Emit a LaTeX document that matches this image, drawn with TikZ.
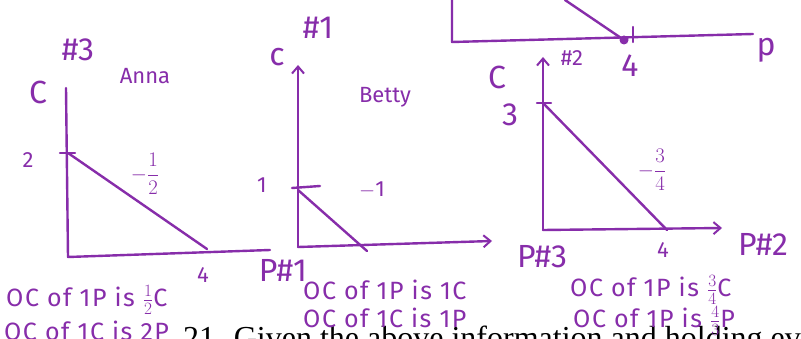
\documentclass[tikz,border=0pt]{standalone}
\usepackage{fontspec}
\setmainfont{Liberation Serif}
\newfontfamily\hand{Fira Sans}
\newfontfamily\handwide[LetterSpace=6]{Fira Sans}
\usetikzlibrary{arrows.meta}
\definecolor{ink}{RGB}{135,45,170}
\begin{document}
\begin{tikzpicture}[x=1pt,y=-1pt, line cap=round, line join=round,
  pen/.style={draw=ink, line width=2.4pt},
  tipped/.style={-{Straight Barb[length=7pt,width=12pt,line width=2pt]}},
  lbl/.style={text=ink, font=\hand\fontsize{32}{32}\selectfont, inner sep=0pt},
  sm/.style={text=ink, font=\hand\fontsize{22}{22}\selectfont, inner sep=0pt},
  note/.style={text=ink, font=\handwide\fontsize{25}{25}\selectfont, inner sep=0pt, anchor=west},
  printed/.style={font=\fontsize{32}{32}\selectfont, inner sep=0pt, anchor=base west}]
\useasboundingbox (0,0) rectangle (801,339);
\fill[white] (0,0) rectangle (801,339);

% printed text, cut off at the bottom
\begin{scope}
\clip (0,0) rectangle (801,339);
\node[printed] (q21) at (183,348) {21. Given the above information and holding ev};
\end{scope}

% top partial graph
\coordinate (tt) at (452,0);
\coordinate (to) at (452,42);
\coordinate (tp) at (753,34);
\coordinate (dt) at (565,0);
\coordinate (dp) at (624,40);
\draw[pen] (tt) -- (to) -- (tp);
\draw[pen] (dt) -- (dp);
\draw[pen] (633,27) -- (633,42);
\fill[ink] (dp) circle (4.5pt);
\node[lbl] (t4) at (630,66) {4};
\node[lbl] (tpl) at (766,50) {p};

% Anna graph (#3)
\coordinate (at) at (66,88);
\coordinate (ao) at (68,257);
\coordinate (ar) at (270,250);
\coordinate (a2) at (68,153);
\coordinate (a4) at (207,249);
\draw[pen] (at) -- (ao) -- (ar);
\draw[pen] (60,153) -- (75,153);
\draw[pen] (a2) -- (a4);
\node[lbl] (aC) at (38,92) {C};
\node[lbl] (aH) at (78,50) {\#3};
\node[sm] (aN) at (145,76) {Anna};
\node[sm] (a2l) at (28,160) {2};
\node[sm] (asl) at (145,174) {$\displaystyle -\frac{1}{2}$};
\node[sm] (a4l) at (203,275) {4};
\node[note] (an1) at (6,300) {OC of 1P is $\frac12$C};
\node[note] (an2) at (4,331) {OC of 1C is 2P};

% Betty graph (#1)
\coordinate (bo) at (298,247);
\coordinate (bt) at (298,65);
\coordinate (br) at (492,241);
\coordinate (b1) at (298,190);
\coordinate (bx) at (367,251);
\draw[pen,tipped] (bo) -- (bt);
\draw[pen,tipped] (bo) -- (br);
\draw[pen] (292,188) -- (320,186);
\draw[pen] (b1) -- (bx);
\node[lbl] (bC) at (277,57) {c};
\node[lbl] (bH) at (318,28) {\#1};
\node[sm] (bN) at (385,97) {Betty};
\node[sm] (b1l) at (262,185) {1};
\node[sm] (bsl) at (372,190) {$-$1};
\node[lbl] (bP) at (283,270) {P\#1};
\node[lbl] (bP3) at (542,257) {P\#3};
\node[note] (bn1) at (303,290) {OC of 1P is 1C};
\node[note] (bn2) at (303,318) {OC of 1C is 1P};

% graph #2
\coordinate (co) at (543,230);
\coordinate (ct) at (543,57);
\coordinate (cr) at (722,228);
\coordinate (c3) at (543,103);
\coordinate (c4) at (667,230);
\draw[pen,tipped] (co) -- (ct);
\draw[pen,tipped] (co) -- (cr);
\draw[pen] (537,103) -- (551,103);
\draw[pen] (c3) -- (c4);
\node[lbl] (cC) at (497,77) {C};
\node[sm] (cH) at (572,58) {\#2};
\node[lbl] (c3l) at (510,115) {3};
\node[sm] (csl) at (652,170) {$\displaystyle -\frac{3}{4}$};
\node[sm] (c4l) at (663,250) {4};
\node[lbl] (cP) at (763,244) {P\#2};
\node[note] (cn1) at (570,290) {OC of 1P is $\frac34$C};
\node[note] (cn2) at (573,321) {OC of 1P is $\frac43$P};
\end{tikzpicture}
\end{document}
